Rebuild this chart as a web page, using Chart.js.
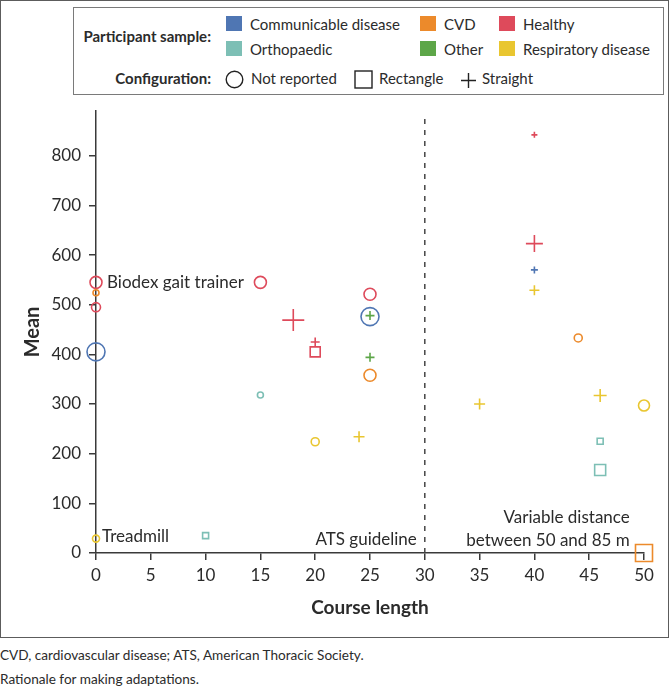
<!DOCTYPE html>
<html>
<head>
<meta charset="utf-8">
<script src="https://cdn.jsdelivr.net/npm/chart.js@4.4.0/dist/chart.umd.min.js"></script>
<style>
  html, body { margin: 0; padding: 0; background: #fff; }
  body { width: 670px; height: 689px; position: relative; overflow: hidden; font-family: Lato, 'Open Sans', sans-serif; color: #2b2b2b; }
  #wrap { position: absolute; left: 0; top: 0; width: 670px; height: 637px; }
  #frame { position: absolute; left: 0; top: 0; width: 669px; height: 638px; border: 1.5px solid #5c5c5c; box-sizing: border-box; pointer-events: none; }
  #legend { position: absolute; left: 73px; top: 7px; width: 591px; height: 88px; border: 1px solid #7a7a7a; box-sizing: border-box; background: #fff; }
  .lg { position: absolute; height: 20px; line-height: 20px; font-size: 15px; white-space: nowrap; }
  .lg.b { font-weight: bold; }
  .sw { position: absolute; width: 16px; height: 15px; }
  .sym { position: absolute; }
  .cap { position: absolute; left: 0; font-size: 13.6px; line-height: 18px; white-space: nowrap; }
</style>
</head>
<body>
<div id="wrap"><canvas id="chart"></canvas></div>
<div id="frame"></div>
<div id="legend"></div>
<div class="cap" style="top:646px">CVD, cardiovascular disease; ATS, American Thoracic Society.</div>
<div class="cap" style="top:670px">Rationale for making adaptations.</div>
<script>
// groupes et couleurs
const SAMPLES = ['Communicable disease', 'CVD', 'Healthy', 'Orthopaedic', 'Other', 'Respiratory disease'];
const SAMPLE_COLORS = ['#4f76b3', '#ec8a2b', '#de4a5b', '#7dbfb5', '#5da648', '#e9c630'];
const CONFIGS = ['Not reported', 'Rectangle', 'Straight'];
const CONFIG_STYLES = { 'Not reported': 'circle', 'Rectangle': 'rect', 'Straight': 'cross' };

// une entree par etude
const courseLength = [0, 0, 0, 0, 0, 10, 15, 15, 18, 20, 20, 20, 24, 25, 25, 25, 25, 25, 35, 40, 40, 40, 40, 44, 46, 46, 46, 50, 50];
const meanDistance = [545, 524, 495, 405, 29, 35, 545, 318, 469, 425, 405, 224, 234, 521, 476, 478, 394, 358, 300, 842, 623, 570, 529, 433, 317, 225, 167, 297, 0];
const sample = ['Healthy', 'CVD', 'Healthy', 'Communicable disease', 'Respiratory disease', 'Orthopaedic',
  'Healthy', 'Orthopaedic', 'Healthy', 'Healthy', 'Healthy', 'Respiratory disease', 'Respiratory disease',
  'Healthy', 'Communicable disease', 'Other', 'Other', 'CVD', 'Respiratory disease', 'Healthy', 'Healthy',
  'Communicable disease', 'Respiratory disease', 'CVD', 'Respiratory disease', 'Orthopaedic', 'Orthopaedic',
  'Respiratory disease', 'CVD'];
const configuration = ['Not reported', 'Not reported', 'Not reported', 'Not reported', 'Not reported', 'Rectangle',
  'Not reported', 'Not reported', 'Straight', 'Straight', 'Rectangle', 'Not reported', 'Straight',
  'Not reported', 'Not reported', 'Straight', 'Straight', 'Not reported', 'Straight', 'Straight', 'Straight',
  'Straight', 'Straight', 'Not reported', 'Straight', 'Rectangle', 'Rectangle', 'Not reported', 'Rectangle'];
// taille visible du marqueur (demi-largeur, px)
const markerHalf = [6, 3, 4.5, 9, 3.5, 3, 6, 3, 11, 4.5, 5, 4, 5.5, 6, 9, 4.5, 4.5, 6, 5.5, 3, 8.5, 3.5, 5, 4, 6.5, 3, 5.5, 5.5, 8.5];

const X_TICKS = [0, 5, 10, 15, 20, 25, 30, 35, 40, 45, 50];
const Y_TICKS = [0, 100, 200, 300, 400, 500, 600, 700, 800];
const Y_TOP = 890;
const ATS_LINE = 30;

// textes poses sur le graphique
const NOTES = [
  { text: 'Biodex gait trainer', x: 0, y: 545, dx: 11, align: 'left' },
  { text: 'Treadmill', x: 0, y: 33, dx: 6, align: 'left' },
  { text: 'ATS guideline', x: 30, y: 28, dx: -8, align: 'right' },
  { text: 'Variable distance', x: 48.7, y: 72, dx: 0, align: 'right' },
  { text: 'between 50 and 85 m', x: 48.7, y: 25, dx: 0, align: 'right' },
];

// legende html
const legend = document.getElementById('legend');
const L = (txt, x, cy, cls) => {
  const d = document.createElement('div');
  d.className = 'lg ' + (cls || '');
  d.style.top = (cy - 10 - 7) + 'px';
  if (cls === 'b') { d.style.right = (664 - x) + 'px'; } else { d.style.left = (x - 73) + 'px'; }
  d.textContent = txt;
  legend.appendChild(d);
};
const SW_POS = [[225, 23], [419, 23], [498, 23], [225, 48], [419, 48], [498, 48]];
SAMPLES.forEach((s, i) => {
  const [sx, cy] = SW_POS[i];
  const sw = document.createElement('div');
  sw.className = 'sw';
  sw.style.left = (sx - 73) + 'px';
  sw.style.top = (cy - 8 - 7) + 'px';
  sw.style.background = SAMPLE_COLORS[i];
  legend.appendChild(sw);
  L(s, sx + 24, cy);
});
L('Participant sample:', 212, 35, 'b');
L('Configuration:', 212, 77, 'b');
const SYM = {
  'Not reported': '<svg width="19" height="19"><circle cx="9.5" cy="9.5" r="8.3" fill="none" stroke="#222" stroke-width="1.4"/></svg>',
  'Rectangle': '<svg width="19" height="19"><rect x="1" y="1" width="17" height="17" fill="none" stroke="#222" stroke-width="1.4"/></svg>',
  'Straight': '<svg width="15" height="15"><path d="M0 7.5H15M7.5 0V15" stroke="#222" stroke-width="1.4"/></svg>',
};
const CFG_POS = [[224, 250], [353, 378], [460, 481]];
CONFIGS.forEach((c, i) => {
  const [sx, tx] = CFG_POS[i];
  const d = document.createElement('div');
  d.className = 'sym';
  d.innerHTML = SYM[c];
  const h = c === 'Straight' ? 15 : 19;
  d.style.left = (sx - 73) + 'px';
  d.style.top = (78 - h / 2 - 7) + 'px';
  legend.appendChild(d);
  L(c, tx, 77);
});

const notesPlugin = {
  id: 'notes',
  beforeDatasetsDraw(chart) {
    const { ctx, chartArea, scales: { x, y } } = chart;
    const gx = x.getPixelForValue(ATS_LINE);
    ctx.save();
    ctx.strokeStyle = '#454545';
    ctx.lineWidth = 1.5;
    ctx.setLineDash([5, 6]);
    ctx.beginPath();
    ctx.moveTo(gx, y.getPixelForValue(0));
    ctx.lineTo(gx, chartArea.top + 3);
    ctx.stroke();
    ctx.restore();
  },
  afterDatasetsDraw(chart) {
    const { ctx, scales: { x, y } } = chart;
    ctx.save();
    ctx.font = '17px Lato';
    ctx.fillStyle = '#2b2b2b';
    ctx.textBaseline = 'middle';
    NOTES.forEach(n => {
      ctx.textAlign = n.align;
      ctx.fillText(n.text, x.getPixelForValue(n.x) + n.dx, y.getPixelForValue(n.y));
    });
    ctx.restore();
  },
};

Chart.defaults.font.family = 'Lato';
Chart.defaults.color = '#2b2b2b';

const AXIS = '#3a3a3a';
const radii = markerHalf.map((h, i) => configuration[i] === 'Rectangle' ? h / Math.SQRT1_2 : h);
new Chart(document.getElementById('chart'), {
  type: 'scatter',
  data: {
    datasets: [{
      data: courseLength.map((v, i) => ({ x: v, y: meanDistance[i] })),
      pointStyle: configuration.map(c => CONFIG_STYLES[c]),
      pointBorderColor: sample.map(s => SAMPLE_COLORS[SAMPLES.indexOf(s)]),
      pointBackgroundColor: 'rgba(0,0,0,0)',
      pointBorderWidth: 1.6,
      pointRadius: radii,
      pointHoverRadius: radii,
      clip: false,
    }],
  },
  options: {
    responsive: true,
    maintainAspectRatio: false,
    animation: false,
    events: [],
    layout: { padding: { top: 111, right: 26, left: 0, bottom: 0 } },
    plugins: { legend: { display: false }, tooltip: { enabled: false } },
    scales: {
      x: {
        type: 'linear', min: X_TICKS[0], max: X_TICKS[X_TICKS.length - 1],
        afterBuildTicks: s => { s.ticks = X_TICKS.map(v => ({ value: v })); },
        afterFit: s => { s.height = 84; },
        ticks: { padding: 5, font: { size: 17 } },
        grid: { display: true, drawOnChartArea: false, drawTicks: true, tickLength: 7, color: AXIS, lineWidth: 1.5 },
        border: { display: true, color: AXIS, width: 1.5 },
        title: { display: true, text: 'Course length', font: { size: 19, weight: 'bold' }, padding: { top: 0, bottom: 18 } },
      },
      y: {
        type: 'linear', min: Y_TICKS[0], max: Y_TOP,
        afterBuildTicks: s => { s.ticks = Y_TICKS.map(v => ({ value: v })); },
        afterFit: s => { s.width = 96; },
        ticks: { padding: 8, font: { size: 17 } },
        grid: { display: true, drawOnChartArea: false, drawTicks: true, tickLength: 7, color: AXIS, lineWidth: 1.5 },
        border: { display: true, color: AXIS, width: 1.5 },
        title: { display: true, text: 'Mean', font: { size: 20, weight: 'bold' }, padding: { top: 21, bottom: 0 } },
      },
    },
  },
  plugins: [notesPlugin],
});
</script>
</body>
</html>
